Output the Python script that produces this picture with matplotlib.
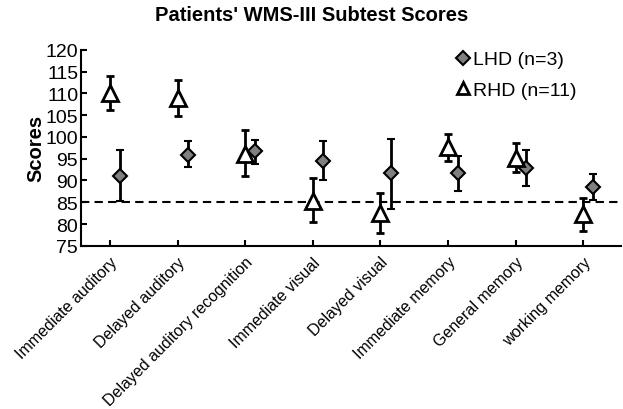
import matplotlib
matplotlib.use('Agg')
import matplotlib.pyplot as plt
from matplotlib.lines import Line2D
import numpy as np

# Данные
categories = ['Immediate auditory', 'Delayed auditory', 'Delayed auditory recognition',
              'Immediate visual', 'Delayed visual', 'Immediate memory',
              'General memory', 'working memory']
lhd_mean = [91.1, 95.9, 96.7, 94.4, 91.7, 91.7, 92.8, 88.6]
lhd_low = [85.3, 93.1, 93.8, 90.2, 83.5, 87.5, 88.8, 85.6]
lhd_high = [97.0, 99.0, 99.3, 99.0, 99.6, 95.6, 97.0, 91.4]
rhd_mean = [110.0, 108.9, 96.0, 85.4, 82.6, 97.7, 95.1, 82.2]
rhd_low = [106.2, 104.7, 91.1, 80.4, 78.0, 94.4, 91.9, 78.3]
rhd_high = [114.0, 113.0, 101.5, 90.5, 87.2, 100.6, 98.65, 86.0]
yticks = list(range(75, 121, 5))
cutoff = 85

plt.rcParams['font.family'] = 'Liberation Sans'
fig = plt.figure(figsize=(6.23, 4.10), dpi=100)
ax = fig.add_axes([0.130, 0.398, 0.867, 0.478])

x = np.arange(1, len(categories) + 1)
lhd_mean = np.array(lhd_mean)
rhd_mean = np.array(rhd_mean)
lhd_err = [lhd_mean - np.array(lhd_low), np.array(lhd_high) - lhd_mean]
rhd_err = [rhd_mean - np.array(rhd_low), np.array(rhd_high) - rhd_mean]

# Линия отсечки
ax.axhline(cutoff, color='black', linestyle=(0, (4, 2.5)), linewidth=1.5, zorder=1)

ax.errorbar(x + 0.15, lhd_mean, yerr=lhd_err, fmt='D', color='black',
            markerfacecolor='#7f7f7f', markeredgecolor='black', markersize=7,
            markeredgewidth=1.5, elinewidth=2, capsize=3, capthick=2, zorder=3)
ax.errorbar(x, rhd_mean, yerr=rhd_err, fmt='^', color='black',
            markerfacecolor='white', markeredgecolor='black', markersize=12,
            markeredgewidth=2, elinewidth=2, capsize=3, capthick=2, zorder=3)

ax.set_xlim(0.57, 8.56)
ax.set_ylim(75, 120)
ax.set_yticks(yticks)
ax.set_xticks(x)
ax.set_xticklabels(categories, rotation=45, ha='right', rotation_mode='anchor', fontsize=11.5)
ax.tick_params(axis='y', labelsize=14, width=1.5, length=4.5, direction='in', pad=2)
ax.tick_params(axis='x', width=1.5, length=4.5, direction='in', pad=6)
for s in ['top', 'right']:
    ax.spines[s].set_visible(False)
for s in ['left', 'bottom']:
    ax.spines[s].set_linewidth(1.5)

ax.set_ylabel('Scores', fontsize=14.5, fontweight='bold', labelpad=0)
fig.suptitle("Patients' WMS-III Subtest Scores", fontsize=14.5, fontweight='bold', x=0.5, y=0.985)

# Легенда
handles = [Line2D([], [], linestyle='none', marker='D', markersize=7, markerfacecolor='#7f7f7f',
                  markeredgecolor='black', markeredgewidth=1.5),
           Line2D([], [], linestyle='none', marker='^', markersize=9, markerfacecolor='white',
                  markeredgecolor='black', markeredgewidth=2)]
labels = ['LHD (n=3)', 'RHD (n=11)']
ax.legend(handles, labels, loc='upper left', bbox_to_anchor=(0.67, 1.065), frameon=False,
          fontsize=14, handlelength=0.7, handletextpad=0.15, labelspacing=0.67,
          borderpad=0.2)

fig.savefig('out.png', dpi=100)
